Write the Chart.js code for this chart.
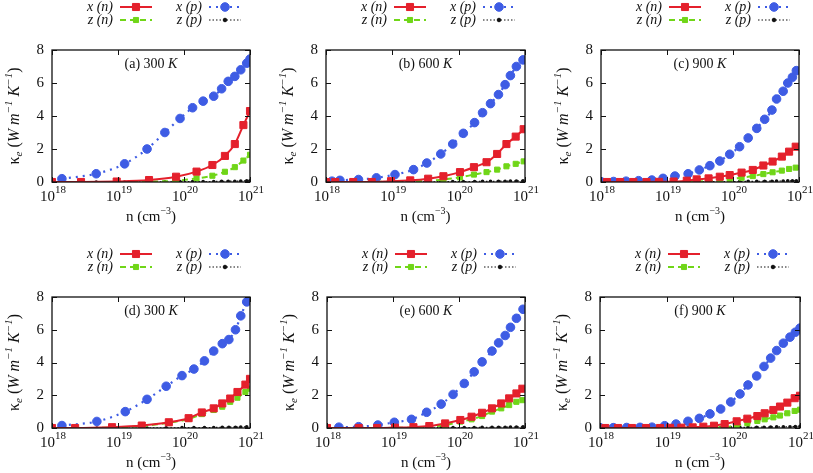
<!DOCTYPE html>
<html>
<head>
<meta charset="utf-8">
<script src="https://cdn.jsdelivr.net/npm/chart.js@4/dist/chart.umd.min.js"></script>
<style>
html, body { margin: 0; padding: 0; background: #fff; }
#wrap { position: relative; width: 813px; height: 473px; }
#wrap canvas { position: absolute; left: 0; top: 0; }
</style>
</head>
<body>
<div id="wrap"></div>
<script>
// log10(n) grids and kappa_e values
// (a) 300 K
var nA  = [18.0, 18.44, 18.98, 19.47, 19.88, 20.19, 20.43, 20.62, 20.77, 20.9, 21.0]
var xnA = [0, 0, 0.03, 0.12, 0.32, 0.63, 1.03, 1.58, 2.3, 3.45, 4.3]
var znA = [0, 0, 0, 0.02, 0.08, 0.22, 0.38, 0.62, 0.9, 1.3, 1.65]
var pA  = [18.15, 18.67, 19.1, 19.44, 19.71, 19.94, 20.13, 20.29, 20.45, 20.57, 20.67, 20.77, 20.86, 20.95, 21.0]
var xpA = [0.2, 0.5, 1.1, 2.0, 3.0, 3.85, 4.5, 4.9, 5.2, 5.65, 6.1, 6.4, 6.8, 7.2, 7.45]
var zpA = [0, 0, 0, 0, 0.01, 0.02, 0.02, 0.03, 0.03, 0.04, 0.05, 0.05, 0.06, 0.07, 0.08]
// (b) 600 K
var nB  = [18.0, 18.14, 18.41, 18.69, 18.98, 19.27, 19.54, 19.77, 20.02, 20.23, 20.42, 20.58, 20.72, 20.86, 20.98]
var xnB = [0, 0, 0, 0, 0.05, 0.1, 0.2, 0.35, 0.6, 0.9, 1.2, 1.7, 2.3, 2.75, 3.2]
var znB = [0, 0, 0, 0, 0.02, 0.04, 0.08, 0.15, 0.28, 0.45, 0.6, 0.75, 0.95, 1.1, 1.25]
var pB  = [18.09, 18.21, 18.49, 18.76, 19.04, 19.32, 19.52, 19.73, 19.91, 20.07, 20.24, 20.36, 20.48, 20.6, 20.7, 20.78, 20.87, 20.97]
var xpB = [0.05, 0.1, 0.15, 0.25, 0.45, 0.75, 1.15, 1.7, 2.3, 2.95, 3.6, 4.2, 4.75, 5.3, 5.9, 6.45, 7.0, 7.4]
var zpB = [0, 0, 0, 0, 0, 0.01, 0.01, 0.02, 0.02, 0.03, 0.03, 0.04, 0.04, 0.05, 0.05, 0.06, 0.06, 0.07]
// (c) 900 K
var nC  = [18.09, 18.29, 18.49, 18.69, 18.88, 19.1, 19.3, 19.45, 19.63, 19.8, 19.95, 20.13, 20.3, 20.46, 20.6, 20.74, 20.85, 20.95]
var xnC = [0, 0, 0, 0, 0.01, 0.03, 0.08, 0.16, 0.22, 0.32, 0.42, 0.57, 0.73, 1.0, 1.24, 1.54, 1.84, 2.14]
var znC = [0, 0, 0, 0, 0, 0, 0.01, 0.03, 0.06, 0.12, 0.18, 0.26, 0.36, 0.48, 0.59, 0.69, 0.79, 0.87]
var pC  = [18.0, 18.19, 18.38, 18.57, 18.77, 18.94, 19.12, 19.32, 19.49, 19.65, 19.8, 19.95, 20.1, 20.23, 20.36, 20.48, 20.59, 20.66, 20.76, 20.83, 20.9, 20.96]
var xpC = [0.02, 0.03, 0.05, 0.08, 0.12, 0.22, 0.36, 0.5, 0.73, 0.99, 1.27, 1.68, 2.14, 2.67, 3.25, 3.8, 4.36, 5.03, 5.5, 6.0, 6.35, 6.75]
var zpC = [0, 0, 0, 0, 0, 0, 0.01, 0.01, 0.01, 0.02, 0.02, 0.03, 0.03, 0.04, 0.04, 0.05, 0.05, 0.06, 0.06, 0.07, 0.07, 0.08]
// (d) 300 K
var nD  = [18.0, 18.35, 18.91, 19.36, 19.77, 20.07, 20.27, 20.45, 20.58, 20.7, 20.81, 20.93, 21.0]
var xnD = [0, 0, 0.05, 0.15, 0.35, 0.6, 0.95, 1.2, 1.5, 1.8, 2.2, 2.65, 3.0]
var znD = [0, 0, 0.02, 0.12, 0.32, 0.55, 0.85, 1.1, 1.3, 1.6, 1.85, 2.2, 2.4]
var pD  = [18.15, 18.68, 19.11, 19.44, 19.73, 19.97, 20.15, 20.31, 20.45, 20.58, 20.68, 20.78, 20.86, 20.95]
var xpD = [0.15, 0.4, 1.0, 1.75, 2.55, 3.2, 3.6, 4.1, 4.7, 5.15, 5.4, 6.0, 6.85, 7.7]
var zpD = [0, 0, 0, 0, 0.01, 0.02, 0.02, 0.03, 0.03, 0.04, 0.05, 0.05, 0.06, 0.07]
// (e) 600 K
var nE  = [18.0, 18.48, 18.76, 19.03, 19.31, 19.55, 19.79, 20.02, 20.19, 20.35, 20.5, 20.64, 20.76, 20.87, 20.96]
var xnE = [0, 0, 0, 0.02, 0.05, 0.12, 0.28, 0.49, 0.69, 0.93, 1.2, 1.5, 1.81, 2.11, 2.4]
var znE = [0, 0, 0, 0.01, 0.03, 0.08, 0.18, 0.39, 0.53, 0.73, 1.0, 1.2, 1.4, 1.6, 1.7]
var pE  = [18.18, 18.48, 18.77, 19.02, 19.28, 19.51, 19.73, 19.91, 20.08, 20.23, 20.35, 20.5, 20.6, 20.7, 20.78, 20.87, 20.97]
var xpE = [0.05, 0.08, 0.18, 0.35, 0.53, 0.96, 1.46, 2.05, 2.72, 3.43, 4.04, 4.7, 5.2, 5.65, 6.15, 6.7, 7.25]
var zpE = [0, 0, 0, 0, 0.01, 0.01, 0.02, 0.02, 0.03, 0.03, 0.04, 0.04, 0.05, 0.05, 0.06, 0.06, 0.07]
// (f) 900 K
var nF  = [18.08, 18.27, 18.48, 18.69, 18.9, 19.05, 19.22, 19.39, 19.55, 19.71, 19.87, 20.05, 20.21, 20.36, 20.47, 20.6, 20.7, 20.81, 20.92, 21.0]
var xnF = [0, 0, 0, 0, 0, 0.01, 0.02, 0.04, 0.08, 0.14, 0.24, 0.41, 0.57, 0.73, 0.9, 1.1, 1.31, 1.55, 1.82, 1.97]
var znF = [0, 0, 0, 0, 0, 0, 0, 0.01, 0.02, 0.03, 0.05, 0.14, 0.29, 0.43, 0.53, 0.65, 0.76, 0.9, 1.04, 1.12]
var pF  = [18.0, 18.2, 18.4, 18.6, 18.78, 18.97, 19.14, 19.32, 19.49, 19.65, 19.81, 19.96, 20.1, 20.22, 20.35, 20.46, 20.56, 20.65, 20.75, 20.85, 20.93, 21.0]
var xpF = [0.02, 0.02, 0.03, 0.04, 0.05, 0.14, 0.24, 0.41, 0.59, 0.86, 1.16, 1.59, 2.08, 2.63, 3.18, 3.76, 4.27, 4.73, 5.18, 5.55, 5.85, 6.1]
var zpF = [0, 0, 0, 0, 0, 0, 0, 0.01, 0.01, 0.02, 0.02, 0.03, 0.03, 0.04, 0.05, 0.05, 0.06, 0.07, 0.07, 0.08, 0.09, 0.1]

var etiquetas = ['x (n)', 'z (n)', 'x (p)', 'z (p)']
var ejeX = [18, 19, 20, 21]
var ejeY = [0, 2, 4, 6, 8]

var serif = "'Liberation Serif', 'DejaVu Serif', serif"
var rojo = 'rgb(228, 32, 44)'
var verde = 'rgb(112, 214, 24)'
var azul = 'rgb(62, 92, 228)'

// panel boxes: [left, top, right, bottom] of each plot area
var paneles = [
    { tag: '(a) 300 ', box: [52, 50, 250, 182], n: nA, xn: xnA, zn: znA, p: pA, xp: xpA, zp: zpA },
    { tag: '(b) 600 ', box: [326, 50, 525, 182], n: nB, xn: xnB, zn: znB, p: pB, xp: xpB, zp: zpB },
    { tag: '(c) 900 ', box: [601, 50, 799, 182], n: nC, xn: xnC, zn: znC, p: pC, xp: xpC, zp: zpC },
    { tag: '(d) 300 ', box: [52, 297, 250, 428], n: nD, xn: xnD, zn: znD, p: pD, xp: xpD, zp: zpD },
    { tag: '(e) 600 ', box: [327, 297, 525, 428], n: nE, xn: xnE, zn: znE, p: pE, xp: xpE, zp: zpE },
    { tag: '(f) 900 ', box: [600, 297, 800, 428], n: nF, xn: xnF, zn: znF, p: pF, xp: xpF, zp: zpF }
]

function puntos(xs, ys) {
    return xs.map(function (x, i) { return { x: x, y: ys[i] } })
}

// draws a row of text pieces: [text, italic, dy, size]
function textoRico(ctx, partes, x, y) {
    var total = 0
    partes.forEach(function (p) {
        ctx.font = (p[1] ? 'italic ' : '') + p[3] + 'px ' + serif
        p.w = ctx.measureText(p[0]).width
        total += p.w
    })
    var cx = x - total / 2
    ctx.textAlign = 'left'
    ctx.textBaseline = 'middle'
    partes.forEach(function (p) {
        ctx.font = (p[1] ? 'italic ' : '') + p[3] + 'px ' + serif
        ctx.fillText(p[0], cx, y + p[2])
        cx += p.w
    })
}

var decorado = {
    id: 'decorado',
    afterDraw: function (chart) {
        var ctx = chart.ctx
        var a = chart.chartArea
        var sx = chart.scales.x, sy = chart.scales.y
        var panel = chart.options.plugins.decorado.panel
        ctx.save()
        ctx.fillStyle = '#111'
        ctx.strokeStyle = '#111'
        // frame and inward ticks
        ctx.lineWidth = 1.3
        ctx.strokeRect(a.left, a.top, a.right - a.left, a.bottom - a.top)
        ctx.lineWidth = 1
        ctx.beginPath()
        ejeY.forEach(function (v) {
            var py = Math.round(sy.getPixelForValue(v)) + 0.5
            ctx.moveTo(a.left, py); ctx.lineTo(a.left + 5, py)
            ctx.moveTo(a.right, py); ctx.lineTo(a.right - 5, py)
        })
        ejeX.forEach(function (v) {
            var px = Math.round(sx.getPixelForValue(v)) + 0.5
            ctx.moveTo(px, a.bottom); ctx.lineTo(px, a.bottom - 5)
            ctx.moveTo(px, a.top); ctx.lineTo(px, a.top + 5)
        })
        ctx.stroke()
        // x tick labels 10^k
        ejeX.forEach(function (v) {
            var px = sx.getPixelForValue(v)
            textoRico(ctx, [['10', false, 0, 15], [String(v), false, -7, 11]], px + 1, a.bottom + 15)
        })
        var cx = (a.left + a.right) / 2, cy = (a.top + a.bottom) / 2
        // x title
        textoRico(ctx, [['n (cm', false, 0, 15], ['\u22123', false, -6, 10], [')', false, 0, 15]], cx, a.bottom + 35)
        // y title
        ctx.save()
        ctx.translate(a.left - 37, cy)
        ctx.rotate(-Math.PI / 2)
        textoRico(ctx, [['\u03ba', false, 0, 16], ['e', true, 4, 11], [' (', false, 0, 16], ['W m', true, 0, 16],
            ['\u22121', true, -6, 11], [' K', true, 0, 16], ['\u22121', true, -6, 11], [')', false, 0, 16]], 0, 0)
        ctx.restore()
        // panel tag
        textoRico(ctx, [[panel.tag, false, 0, 14], ['K', true, 0, 14]], cx, a.top + 14)
        // legend, 2 x 2
        var pos = [[61, 43], [61, 30], [150, 43], [150, 30]]
        chart.data.datasets.forEach(function (ds, i) {
            var tx = a.left + pos[i][0], ty = a.top - pos[i][1]
            ctx.font = 'italic 14px ' + serif
            ctx.textAlign = 'right'
            ctx.textBaseline = 'middle'
            ctx.fillStyle = '#111'
            ctx.fillText(ds.label, tx, ty)
            ctx.strokeStyle = ds.borderColor
            ctx.fillStyle = ds.backgroundColor
            ctx.lineWidth = ds.borderWidth
            ctx.setLineDash(ds.borderDash || [])
            ctx.beginPath()
            ctx.moveTo(tx + 7, ty); ctx.lineTo(tx + 39, ty)
            ctx.stroke()
            ctx.setLineDash([])
            ctx.lineWidth = 1
            Chart.helpers.drawPoint(ctx, { pointStyle: ds.pointStyle, rotation: 0, radius: ds.pointRadius, borderWidth: 1 }, tx + 23, ty)
        })
        ctx.restore()
    }
}

var wrap = document.getElementById('wrap')

paneles.forEach(function (panel) {
    var lienzo = document.createElement('canvas')
    lienzo.width = 813
    lienzo.height = 473
    wrap.appendChild(lienzo)
    var b = panel.box
    new Chart(lienzo.getContext('2d'), {
        type: 'line',
        data: {
            datasets: [{
                label: etiquetas[0],
                data: puntos(panel.n, panel.xn),
                borderColor: rojo, backgroundColor: rojo,
                borderWidth: 2, pointStyle: 'rect', pointRadius: 5, pointBorderWidth: 1,
                cubicInterpolationMode: 'monotone'
            }, {
                label: etiquetas[1],
                data: puntos(panel.n, panel.zn),
                borderColor: verde, backgroundColor: verde,
                borderWidth: 2, borderDash: [6, 4], pointStyle: 'rect', pointRadius: 3.6, pointBorderWidth: 1,
                cubicInterpolationMode: 'monotone'
            }, {
                label: etiquetas[2],
                data: puntos(panel.p, panel.xp),
                borderColor: azul, backgroundColor: azul,
                borderWidth: 2.2, borderDash: [2, 5], pointStyle: 'circle', pointRadius: 4.3, pointBorderWidth: 1,
                cubicInterpolationMode: 'monotone'
            }, {
                label: etiquetas[3],
                data: puntos(panel.p, panel.zp),
                borderColor: '#111', backgroundColor: '#111',
                borderWidth: 1.2, borderDash: [1.5, 2], pointStyle: 'circle', pointRadius: 1.8, pointBorderWidth: 0
            }]
        },
        options: {
            responsive: false,
            animation: false,
            devicePixelRatio: 1,
            events: [],
            layout: { padding: { left: b[0] - 30, top: b[1], right: 813 - b[2], bottom: 473 - b[3] - 10 } },
            scales: {
                x: {
                    type: 'linear', min: 18, max: 21,
                    ticks: { display: false, stepSize: 1 },
                    grid: { display: false, drawTicks: false },
                    border: { display: false },
                    afterFit: function (s) { s.height = 10 }
                },
                y: {
                    min: 0, max: 8,
                    ticks: { stepSize: 2, color: '#111', padding: 8, font: { family: serif, size: 15 } },
                    grid: { display: false, drawTicks: false },
                    border: { display: false },
                    afterFit: function (s) { s.width = 30 }
                }
            },
            plugins: {
                legend: { display: false },
                tooltip: { enabled: false },
                decorado: { panel: panel }
            }
        },
        plugins: [decorado]
    })
})
</script>
</body>
</html>
